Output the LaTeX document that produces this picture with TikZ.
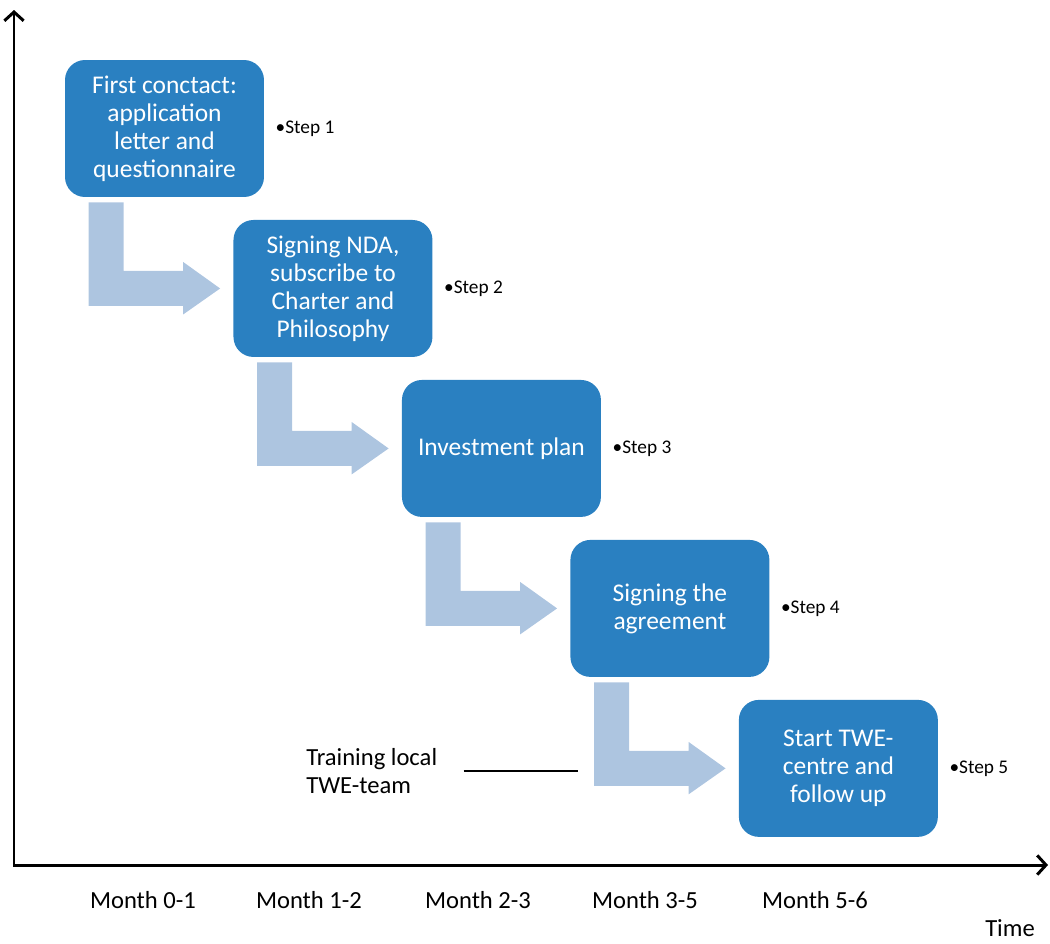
\documentclass[tikz,border=0pt]{standalone}
\usepackage{fontspec}
\setmainfont{Carlito}
\usetikzlibrary{positioning,calc,arrows.meta}
\definecolor{boxblue}{RGB}{42,128,193}
\definecolor{flowblue}{RGB}{173,197,224}

\begin{document}
\begin{tikzpicture}[x=0.02cm, y=-0.02cm,
  stepbox/.style={rectangle, rounded corners=0.4cm, fill=boxblue, text=white,
    minimum width=3.98cm, minimum height=2.74cm, align=center,
    font=\fontsize{14.5}{16}\selectfont, on grid},
  steplabel/.style={inner sep=0pt, font=\fontsize{11}{13}\selectfont},
  flow/.style={fill=flowblue},
  axis/.style={line width=1.7pt, {Straight Barb[length=5pt,width=11pt]}-{Straight Barb[length=5pt,width=11pt]}},
  month/.style={inner sep=0pt, font=\fontsize{14}{16}\selectfont}]
      \useasboundingbox (0,0) rectangle (1050,943);
      % axes
      \coordinate (ytop) at (14,10);
      \coordinate (origin) at (14,865);
      \coordinate (xend) at (1048,865);
      \draw [axis] (ytop) -- (origin) -- (xend);
      % steps
      \node [stepbox] (contact) at (164.5,128.5) {First conctact:\\application\\letter and\\questionnaire};
      \node [stepbox] (nda) [below right=3.2cm and 3.37cm of contact] {Signing NDA,\\subscribe to\\Charter and\\Philosophy};
      \node [stepbox] (plan) [below right=3.2cm and 3.37cm of nda] {Investment plan};
      \node [stepbox] (agreement) [below right=3.2cm and 3.37cm of plan] {Signing the\\agreement};
      \node [stepbox] (start) [below right=3.2cm and 3.37cm of agreement] {Start TWE-\\centre and\\follow up};
      \node [steplabel] (step1) [right=0.22cm of contact] {•Step 1};
      \node [steplabel] (step2) [right=0.22cm of nda] {•Step 2};
      \node [steplabel] (step3) [right=0.22cm of plan] {•Step 3};
      \node [steplabel] (step4) [right=0.22cm of agreement] {•Step 4};
      \node [steplabel] (step5) [right=0.22cm of start] {•Step 5};
      % bent arrows
      \fill [flow] ($(contact.south west)+(24,5)$) coordinate (c1) -- ++(35,0) |- ($(nda.west)+(-50,-17.5)$) -- ++(0,-9) -- ($(nda.west)+(-13,0)$) -- ++(-37,26) -- ++(0,-8.5) -| (c1) -- cycle;
      \fill [flow] ($(nda.south west)+(24,5)$) coordinate (c2) -- ++(35,0) |- ($(plan.west)+(-50,-17.5)$) -- ++(0,-9) -- ($(plan.west)+(-13,0)$) -- ++(-37,26) -- ++(0,-8.5) -| (c2) -- cycle;
      \fill [flow] ($(plan.south west)+(24,5)$) coordinate (c3) -- ++(35,0) |- ($(agreement.west)+(-50,-17.5)$) -- ++(0,-9) -- ($(agreement.west)+(-13,0)$) -- ++(-37,26) -- ++(0,-8.5) -| (c3) -- cycle;
      \fill [flow] ($(agreement.south west)+(24,5)$) coordinate (c4) -- ++(35,0) |- ($(start.west)+(-50,-17.5)$) -- ++(0,-9) -- ($(start.west)+(-13,0)$) -- ++(-37,26) -- ++(0,-8.5) -| (c4) -- cycle;
      % training
      \node [month, align=left, anchor=west] (training) at (306,771) {Training local\\TWE-team};
      \coordinate (trainend) at (578,771);
      \draw [line width=1.1pt] ([xshift=0.52cm]training.east) -- (trainend);
      % time line
      \node [month] (m01) at (143,900) {Month 0-1};
      \node [month] (m12) at (309,900) {Month 1-2};
      \node [month] (m23) at (478,900) {Month 2-3};
      \node [month] (m35) at (645,900) {Month 3-5};
      \node [month] (m56) at (815,900) {Month 5-6};
      \node [month] (time) at (1010,928) {Time};
      \end{tikzpicture}
\end{document}
